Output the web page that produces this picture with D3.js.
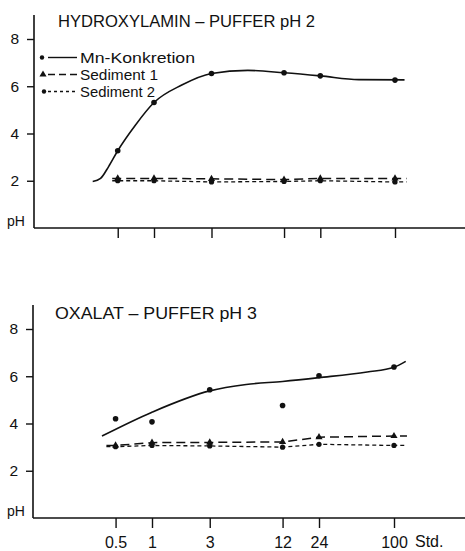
<!DOCTYPE html>
<html><head><meta charset="utf-8">
<script src="https://cdn.jsdelivr.net/npm/d3@7"></script>
<style>
html,body{margin:0;padding:0;background:#fff;}
svg{display:block;}
text{font-family:"Liberation Sans","Arial",sans-serif;fill:#111;}
</style></head>
<body>
<svg id="chart" width="465" height="551"></svg>
<script>
// ---- data ----
const times = [0.5, 1, 3, 12, 24, 100];
const timeLabels = ["0.5", "1", "3", "12", "24", "100"];
const yTicks = [2, 4, 6, 8];

// Panel 1: Hydroxylamin-Puffer pH 2
const hydMn   = [3.27, 5.31, 6.54, 6.57, 6.44, 6.26];
const hydSed1 = [2.10, 2.10, 2.08, 2.05, 2.10, 2.10];
const hydSed2 = [2.00, 2.00, 1.95, 1.97, 2.00, 1.95];
const hydMnCurveT = [0.31, 0.36, 0.42, 0.5, 0.7, 1, 1.7, 3, 6, 12, 24, 50, 120];
const hydMnCurveV = [1.97, 2.1, 2.6, 3.27, 4.35, 5.31, 6.05, 6.54, 6.67, 6.57, 6.44, 6.28, 6.27];
const hydSedLineT = [0.45, 125];

// Panel 2: Oxalat-Puffer pH 3
const oxaMn   = [4.20, 4.07, 5.43, 4.76, 6.02, 6.39];
const oxaSed1 = [3.07, 3.19, 3.20, 3.22, 3.42, 3.47];
const oxaSed2 = [3.02, 3.07, 3.05, 3.00, 3.12, 3.07];
const oxaMnCurveT = [0.386, 1, 3, 6, 12, 24, 60, 100, 125];
const oxaMnCurveV = [3.47, 4.48, 5.38, 5.65, 5.78, 5.94, 6.18, 6.38, 6.63];
const oxaSedLineT = [0.42, 128];

const legendLabels = ["Mn-Konkretion", "Sediment 1", "Sediment 2"];

// ---- drawing ----
const svg = d3.select("#chart");

function panel(cfg) {
  const g = svg.append("g");
  const x = d3.scaleLog().domain([1, 100]).range(cfg.xr);
  const y = d3.scaleLinear().domain([0, 8]).range(cfg.yr);

  // axes
  g.append("line").attr("x1", cfg.ax).attr("x2", cfg.ax)
    .attr("y1", cfg.axTop).attr("y2", y(0))
    .attr("stroke", "#111").attr("stroke-width", 1.6);
  g.append("line").attr("x1", cfg.ax).attr("x2", 465)
    .attr("y1", y(0)).attr("y2", y(0))
    .attr("stroke", "#111").attr("stroke-width", 1.6);

  const yAxis = d3.axisLeft(y).tickValues(yTicks).tickSize(7).tickPadding(8).tickFormat(d3.format("d"));
  const ya = g.append("g").attr("transform", `translate(${cfg.ax},0)`).call(yAxis);
  ya.select(".domain").remove();
  ya.selectAll("line").attr("stroke", "#111").attr("stroke-width", 1.4);
  ya.selectAll("text").attr("font-size", 15.5).attr("fill", "#111");

  const xAxis = d3.axisBottom(x).tickValues(times).tickSize(10).tickPadding(9)
    .tickFormat((d, i) => cfg.showX ? timeLabels[i] : "");
  const xa = g.append("g").attr("transform", `translate(0,${y(0)})`).call(xAxis);
  xa.select(".domain").remove();
  xa.selectAll("line").attr("stroke", "#111").attr("stroke-width", 1.4);
  xa.selectAll("text").attr("font-size", 16).attr("fill", "#111");
  if (cfg.showX) {
    g.append("text").attr("x", 415).attr("y", y(0) + 29).attr("font-size", 16).text("Std.");
  }

  g.append("text").attr("x", 7).attr("y", y(0) - 2).attr("font-size", 14).text("pH");

  g.append("text").attr("x", cfg.titleX).attr("y", cfg.titleY)
    .attr("font-size", 16.5).attr("textLength", cfg.titleW).attr("lengthAdjust", "spacingAndGlyphs")
    .text(cfg.title);

  const line = d3.line().x(d => x(d[0])).y(d => y(d[1]));

  // Mn curve
  g.append("path").datum(cfg.mnCurveT.map((t, i) => [t, cfg.mnCurveV[i]]))
    .attr("d", line.curve(d3.curveMonotoneX))
    .attr("fill", "none").attr("stroke", "#111").attr("stroke-width", 1.6);

  // Sediment lines
  const lin = d3.line().x(d => x(d[0])).y(d => y(d[1]));
  function sedData(vals) {
    const pts = times.map((t, i) => [t, vals[i]]);
    return [[cfg.sedT[0], vals[0]], ...pts, [cfg.sedT[1], vals[vals.length - 1]]];
  }
  g.append("path").datum(sedData(cfg.sed1)).attr("d", lin)
    .attr("fill", "none").attr("stroke", "#111").attr("stroke-width", 1.5)
    .attr("stroke-dasharray", "9,5");
  g.append("path").datum(sedData(cfg.sed2)).attr("d", lin)
    .attr("fill", "none").attr("stroke", "#111").attr("stroke-width", 1.3)
    .attr("stroke-dasharray", "4,3");

  // markers
  g.selectAll(".mn").data(times).join("circle")
    .attr("cx", d => x(d)).attr("cy", (d, i) => y(cfg.mn[i])).attr("r", 2.8).attr("fill", "#111");
  g.selectAll(".s1").data(times).join("path")
    .attr("transform", (d, i) => `translate(${x(d)},${y(cfg.sed1[i])})`)
    .attr("d", d3.symbol(d3.symbolTriangle, 22)).attr("fill", "#111");
  g.selectAll(".s2").data(times).join("circle")
    .attr("cx", d => x(d)).attr("cy", (d, i) => y(cfg.sed2[i])).attr("r", 2.6).attr("fill", "#111");
}

panel({
  xr: [154, 395], yr: [228, 39], ax: 34, axTop: 15, showX: false,
  title: "HYDROXYLAMIN – PUFFER  pH 2", titleX: 58, titleY: 27, titleW: 257,
  mn: hydMn, sed1: hydSed1, sed2: hydSed2,
  mnCurveT: hydMnCurveT, mnCurveV: hydMnCurveV, sedT: hydSedLineT
});
panel({
  xr: [152, 394], yr: [518, 329], ax: 33, axTop: 305, showX: true,
  title: "OXALAT – PUFFER  pH 3", titleX: 55, titleY: 319, titleW: 202,
  mn: oxaMn, sed1: oxaSed1, sed2: oxaSed2,
  mnCurveT: oxaMnCurveT, mnCurveV: oxaMnCurveV, sedT: oxaSedLineT
});

// legend (top panel)
const leg = svg.append("g");
const legBase = [63, 80, 97];
const legDash = [null, "7,4", "3,3"];
const legW = [115, 78, 75];
legendLabels.forEach((lab, i) => {
  const cy = legBase[i] - 5.5;
  if (i === 1) {
    leg.append("path").attr("transform", `translate(43,${cy})`)
      .attr("d", d3.symbol(d3.symbolTriangle, 22)).attr("fill", "#111");
  } else {
    leg.append("circle").attr("cx", i === 0 ? 42 : 44).attr("cy", cy).attr("r", 2.2).attr("fill", "#111");
  }
  const l = leg.append("line").attr("x1", 48).attr("x2", 77).attr("y1", cy).attr("y2", cy)
    .attr("stroke", "#111").attr("stroke-width", 1.4);
  if (legDash[i]) l.attr("stroke-dasharray", legDash[i]);
  leg.append("text").attr("x", 80).attr("y", legBase[i]).attr("font-size", 15)
    .attr("textLength", legW[i]).attr("lengthAdjust", "spacingAndGlyphs").text(lab);
});
</script>
</body></html>
